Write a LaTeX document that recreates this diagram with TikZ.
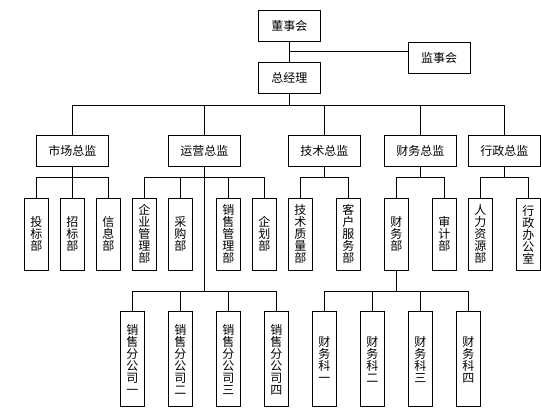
\documentclass[tikz,border=0pt]{standalone}
\usepackage{fontspec}
\newfontfamily\cjk{Noto Sans CJK SC}
\usetikzlibrary{calc}

\begin{document}
\begin{tikzpicture}[x=0.75pt,y=-0.75pt,line width=0.75pt,
  every node/.style={font=\cjk\fontsize{9}{9}\selectfont,inner sep=0pt,align=center},
  boxtop/.style={draw,minimum width=46.5pt,minimum height=23.5pt},
  boxdir/.style={draw,minimum width=54pt,minimum height=23.25pt},
  boxdep/.style={draw,minimum width=18pt,minimum height=54pt},
  boxfil/.style={draw,minimum width=18pt,minimum height=71pt}]
  \useasboundingbox (0,0) rectangle (541,416);
  % Direction
  \node[boxtop] (dsh) at (289.3,26.3){董事会};
  \node[boxtop] (jsh) at (439,57.7){监事会};
  \node[boxtop] (zjl) at (289.3,77.7){总经理};
  \coordinate (jd) at ($(dsh.south)!0.5!(zjl.north)$);
  \draw (dsh) -- (zjl);
  \draw (jd) -- (jd -| jsh.west);
  % Directeurs
  \node[boxdir] (sc) at (72.3,150.8){市场总监};
  \node[boxdir] (yy) at (204.3,150.8){运营总监};
  \node[boxdir] (js) at (324.3,150.8){技术总监};
  \node[boxdir] (cw) at (420.3,150.8){财务总监};
  \node[boxdir] (xz) at (504.3,150.8){行政总监};
  \draw (zjl.south) -- ++(0,11.3) -| (sc.north);
  \draw (zjl.south) -- ++(0,11.3) -| (yy.north);
  \draw (zjl.south) -- ++(0,11.3) -| (js.north);
  \draw (zjl.south) -- ++(0,11.3) -| (cw.north);
  \draw (zjl.south) -- ++(0,11.3) -| (xz.north);
  % Services --- marche
  \node[boxdep] (tb) at (36.3,234.3){投\\标\\部};
  \node[boxdep] (zb) at (72.3,234.3){招\\标\\部};
  \node[boxdep] (xx) at (108.3,234.3){信\\息\\部};
  \draw (sc.south) -- ++(0,11) -| (tb.north);
  \draw (sc.south) -- (zb.north);
  \draw (sc.south) -- ++(0,11) -| (xx.north);
  % Services --- exploitation
  \node[boxdep] (qy) at (144.3,234.3){企\\业\\管\\理\\部};
  \node[boxdep] (cg) at (180.3,234.3){采\\购\\部};
  \node[boxdep] (xg) at (228.3,234.3){销\\售\\管\\理\\部};
  \node[boxdep] (qh) at (264.3,234.3){企\\划\\部};
  \draw (yy.south) -- ++(0,11) -| (qy.north);
  \draw (yy.south) -- ++(0,11) -| (cg.north);
  \draw (yy.south) -- ++(0,11) -| (xg.north);
  \draw (yy.south) -- ++(0,11) -| (qh.north);
  % Services --- technique
  \node[boxdep] (jz) at (300.3,234.3){技\\术\\质\\量\\部};
  \node[boxdep] (kf) at (348.3,234.3){客\\户\\服\\务\\部};
  \draw (js.south) -- ++(0,11) -| (jz.north);
  \draw (js.south) -- ++(0,11) -| (kf.north);
  % Services --- finances
  \node[boxdep] (cwb) at (396.3,234.3){财\\务\\部};
  \node[boxdep] (sj) at (444.3,234.3){审\\计\\部};
  \draw (cw.south) -- ++(0,11) -| (cwb.north);
  \draw (cw.south) -- ++(0,11) -| (sj.north);
  % Services --- administration
  \node[boxdep] (rl) at (480.3,234.3){人\\力\\资\\源\\部};
  \node[boxdep] (xb) at (528.3,234.3){行\\政\\办\\公\\室};
  \draw (xz.south) -- ++(0,11) -| (rl.north);
  \draw (xz.south) -- ++(0,11) -| (xb.north);
  % Filiales de vente
  \node[boxfil] (xs1) at (132.3,359.3){销\\售\\分\\公\\司\\一};
  \node[boxfil] (xs2) at (180.3,359.3){销\\售\\分\\公\\司\\二};
  \node[boxfil] (xs3) at (228.3,359.3){销\\售\\分\\公\\司\\三};
  \node[boxfil] (xs4) at (276.3,359.3){销\\售\\分\\公\\司\\四};
  \draw (yy.south) -- ++(0,125) -| (xs1.north);
  \draw (yy.south) -- ++(0,125) -| (xs2.north);
  \draw (yy.south) -- ++(0,125) -| (xs3.north);
  \draw (yy.south) -- ++(0,125) -| (xs4.north);
  % Sections financieres
  \node[boxfil] (ck1) at (324.3,359.3){财\\务\\科\\一};
  \node[boxfil] (ck2) at (372.3,359.3){财\\务\\科\\二};
  \node[boxfil] (ck3) at (420.3,359.3){财\\务\\科\\三};
  \node[boxfil] (ck4) at (468.3,359.3){财\\务\\科\\四};
  \draw (cwb.south) -- ++(0,21) -| (ck1.north);
  \draw (cwb.south) -- ++(0,21) -| (ck2.north);
  \draw (cwb.south) -- ++(0,21) -| (ck3.north);
  \draw (cwb.south) -- ++(0,21) -| (ck4.north);
\end{tikzpicture}
\end{document}
